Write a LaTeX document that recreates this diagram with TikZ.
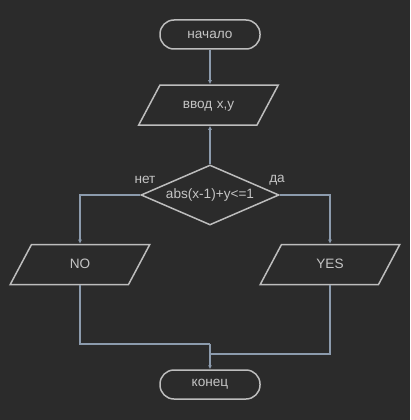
\documentclass[tikz,border=0pt]{standalone}
\usepackage{fontspec}
\setmainfont{Liberation Sans}
\usepackage{tikz}
\usetikzlibrary{positioning}
\usetikzlibrary{shapes.geometric}
\usetikzlibrary{arrows.meta}

\definecolor{bg}{HTML}{2B2B2B}
\definecolor{shapeline}{HTML}{BDBDBD}
\definecolor{wire}{HTML}{8C9BAD}
\definecolor{txt}{HTML}{C4C4C4}

\tikzset{
  term/.style={draw=shapeline, line width=1.5pt, rectangle, rounded corners=14pt,
    minimum width=100pt, minimum height=29pt, text=txt},
  io/.style={draw=shapeline, line width=1.5pt, trapezium, trapezium left angle=62,
    trapezium right angle=118, text width=93pt, align=center, text height=9.5pt,
    text depth=2.5pt, inner xsep=2pt, inner ysep=14pt, text=txt},
  cond/.style={draw=shapeline, line width=1.5pt, diamond, aspect=2.3, minimum width=138pt,
    minimum height=60pt, inner sep=0pt, text=txt},
  wire/.style={draw=wire, line width=1.5pt},
  arr/.style={wire, -{Latex[length=4pt,width=4pt]}},
  lbl/.style={text=txt}
}

\begin{document}
\begin{tikzpicture}[x=1pt, y=-1pt, font=\fontsize{13.6}{16}\selectfont]
  \fill[bg] (0,0) rectangle (410,420);
  \useasboundingbox (0,0) rectangle (410,420);

  %---------------- blocks ----------------
  \node[term] (start) at (210,34.5) {начало};
  \node[io] (inp) at (208.5,105) {ввод x,y};
  \node[cond] (test) at (210,195) {abs(x-1)+y<=1};
  \node[io] (no) at (80,264.5) {NO};
  \node[io] (yes) at (330,264.5) {YES};
  \node[term] (stop) at (210,384.5) {конец};

  \node[lbl] (lno) at (145,180) {нет};
  \node[lbl] (lyes) at (277,180) {да};

  %---------------- wires ----------------
  \coordinate (jn) at (210,344);
  \coordinate (jy) at (210,354);

  \draw[arr] (start.south) -- (inp.north -| start.south);
  \draw[arr] (test.north) -- (inp.south -| test.north);
  \draw[arr] (test.west) -| (no.north);
  \draw[arr] (test.east) -| (yes.north);
  \draw[wire] (no.south) |- (jn);
  \draw[wire] (yes.south) |- (jy);
  \draw[arr] (jn) -- (stop.north);
\end{tikzpicture}
\end{document}
